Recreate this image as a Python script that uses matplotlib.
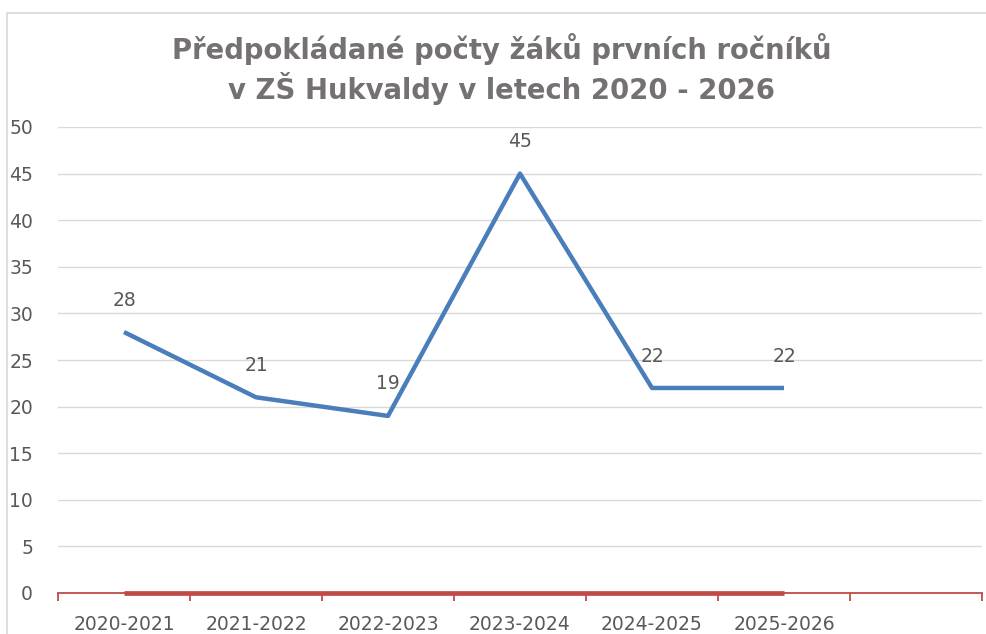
import matplotlib
matplotlib.use("Agg")
import matplotlib.pyplot as plt
from matplotlib.patches import Rectangle

categories = ["2020-2021", "2021-2022", "2022-2023", "2023-2024", "2024-2025", "2025-2026", ""]
values = [28, 21, 19, 45, 22, 22]
zero_series = [0, 0, 0, 0, 0, 0]
yticks = [0, 5, 10, 15, 20, 25, 30, 35, 40, 45, 50]
title = "Předpokládané počty žáků prvních ročníků\nv ZŠ Hukvaldy v letech 2020 - 2026"

plt.rcParams['font.family'] = ['DejaVu Sans']

W, H = 986, 634
fig = plt.figure(figsize=(W / 100, H / 100), dpi=100)
fig.patch.set_facecolor('white')

# chart border
fig.patches.append(Rectangle((7 / W, -0.1), 1.2, 1 - 13 / H + 0.1, transform=fig.transFigure,
                             fill=False, edgecolor='#D9D9D9', linewidth=1.2))

ax = fig.add_axes([58 / W, 1 - 593 / H, (982 - 58) / W, (593 - 127) / H])
ax.set_facecolor('none')

x = list(range(len(values)))
ax.plot(x, values, color='#4A7EBB', linewidth=3.2, solid_capstyle='butt', zorder=3, clip_on=False)
ax.plot(x, zero_series, color='#BE4B48', linewidth=3.4, solid_capstyle='butt', zorder=4, clip_on=False)

for xi, v in zip(x, values):
    ax.annotate(str(v), (xi, v), xytext=(0, 23), textcoords='offset points',
                ha='center', va='center', fontsize=13.5, color='#595959')

ax.set_xlim(-0.5, len(categories) - 0.5)
ax.set_ylim(0, 50)
ax.set_yticks(yticks)
ax.set_yticklabels([str(t) for t in yticks])
ax.set_xticks(range(len(categories)))
ax.set_xticklabels(categories)
ax.set_xticks([i - 0.5 for i in range(len(categories) + 1)], minor=True)

ax.tick_params(axis='x', which='major', length=0, pad=16, labelsize=13.5, labelcolor='#595959')
ax.tick_params(axis='x', which='minor', length=6, width=1.3, color='#BE4B48', direction='out')
ax.tick_params(axis='y', which='both', length=0, pad=18, labelsize=13.5, labelcolor='#595959')

ax.grid(axis='y', color='#D9D9D9', linewidth=1)
ax.set_axisbelow(True)
for s in ['top', 'right', 'left']:
    ax.spines[s].set_visible(False)
ax.spines['bottom'].set_color('#BE4B48')
ax.spines['bottom'].set_linewidth(1.3)

fig.text(0.5 + 9 / W, 1 - 69 / H, title, ha='center', va='center', fontsize=19.8,
         fontweight='bold', color='#767171', linespacing=1.25)

fig.savefig('out.png', dpi=100)
